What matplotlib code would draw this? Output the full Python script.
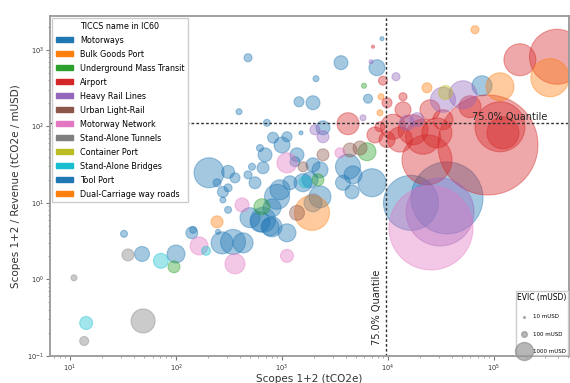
import matplotlib
matplotlib.use("Agg")
import matplotlib.pyplot as plt
from matplotlib.patches import Patch

plt.rcParams['font.family'] = ['DejaVu Sans']

categories = ["Motorways", "Bulk Goods Port", "Underground Mass Transit", "Airport",
              "Heavy Rail Lines", "Urban Light-Rail", "Motorway Network", "Stand-Alone Tunnels",
              "Container Port", "Stand-Alone Bridges", "Tool Port", "Dual-Carriage way roads"]
colors = ["#1f77b4", "#ff7f0e", "#2ca02c", "#d62728", "#9467bd", "#8c564b",
          "#e377c2", "#7f7f7f", "#bcbd22", "#17becf", "#1f77b4", "#ff7f0e"]

# Motorways
mot_x = [32.3, 47.8, 100, 141, 249, 272, 345, 429, 897, 662, 805, 1114, 205, 310, 360, 244, 277, 310,
         277, 310, 478, 556, 521, 692, 620, 823, 1000, 662, 1386, 1327, 1960, 2281, 1578, 1837, 957,
         1189, 805, 499, 620, 771, 2281, 4194, 4677, 3762, 4575, 7063, 478, 393, 721, 3603, 2094, 1446,
         1960, 7870, 8776, 6478, 16480, 36060, 2436, 77100]
mot_y = [3.94, 2.15, 2.15, 4.06, 4.18, 3.0, 3.09, 3.0, 12, 6.0, 4.86, 4.06, 24.7, 25.4, 21.2, 18.3, 13.9, 15.7,
         10.9, 8.1, 23.2, 18.3, 29.6, 42.4, 52, 71, 57, 28.7, 42.4, 34.5, 31.4, 27, 18.3, 20, 14.8,
         18.3, 8.6, 6.4, 5.65, 4.86, 12, 29.6, 23.2, 18.3, 13.9, 18.3, 785, 155, 111, 677, 418, 209,
         203, 582, 1393, 229, 10, 11.6, 95.5, 338]
mot_e = [150, 690, 1000, 440, 80, 1500, 1930, 1240, 1930, 1930, 1240, 1000, 2780, 520, 310, 200, 370, 200,
         110, 150, 200, 440, 150, 600, 150, 370, 790, 440, 600, 310, 600, 790, 1000, 790, 1240,
         600, 1000, 1240, 1240, 1000, 1490, 1930, 1000, 690, 600, 2420, 200, 110, 150, 600, 110, 310,
         600, 790, 50, 250, 9340, 16000, 600, 1240]

bulk_x = [244, 1918, 8590, 8405, 66220, 23350]
bulk_y = [5.65, 7.4, 243, 150, 1824, 318]
bulk_e = [440, 3780, 110, 110, 200, 310]

umt_x = [95.7, 647, 2187, 5938, 6339]
umt_y = [1.46, 8.9, 20, 338, 46.5]
umt_e = [440, 790, 440, 80, 1000]

air_x = [7217, 8972, 4194, 13860, 175800, 393000, 59430, 114000, 121600, 87700, 23350, 11150,
         13860, 17220, 21400, 28970, 33030, 24910, 12970, 9790, 8405, 9790, 7530]
air_y = [1094, 394, 108, 243, 739, 809, 180, 98.5, 82, 57, 36.5, 98.5,
         164, 90, 73, 82, 122, 164, 67, 67, 98.5, 203, 77]
air_e = [30, 250, 1490, 200, 3160, 9340, 1490, 7720, 3160, 30900, 7720, 1930,
         790, 2780, 3780, 2780, 1240, 1240, 1930, 790, 310, 310, 790]

hrl_x = [6916, 5808, 2436, 2047, 11890, 51000, 33030, 15100, 18790, 31000]
hrl_y = [697, 129, 73, 90, 444, 258, 222, 111, 122, 7.6]
hrl_e = [50, 110, 440, 310, 200, 2420, 1930, 690, 600, 14300]

ulr_x = [1578, 2436, 1386, 4382, 5446]
ulr_y = [29.6, 42.4, 7.4, 49, 52]
ulr_e = [310, 440, 690, 600, 600]

mwn_x = [165, 360, 1114, 420, 1114, 3524, 25470]
mwn_y = [2.74, 1.60, 2.03, 9.4, 33.3, 45, 4.71]
mwn_e = [1000, 1240, 520, 600, 1240, 310, 21800]

tun_x = [10.9, 13.6, 48.9, 35.2, 1960]
tun_y = [1.05, 0.157, 0.287, 2.09, 10]
tun_e = [110, 250, 1780, 440, 1000]

cp_x = [34500]
cp_y = [282]
cp_e = [600]

br_x = [14.2, 72, 192, 1648]
br_y = [0.27, 1.75, 2.36, 18.8]
br_e = [520, 690, 250, 440]

tp_x = [145, 1114, 1511]
tp_y = [4.44, 73, 82]
tp_e = [150, 310, 50]

dc_x = [114000, 337500]
dc_y = [328, 431]
dc_e = [2420, 4500]

series = [(mot_x, mot_y, mot_e), (bulk_x, bulk_y, bulk_e), (umt_x, umt_y, umt_e),
          (air_x, air_y, air_e), (hrl_x, hrl_y, hrl_e), (ulr_x, ulr_y, ulr_e),
          (mwn_x, mwn_y, mwn_e), (tun_x, tun_y, tun_e), (cp_x, cp_y, cp_e),
          (br_x, br_y, br_e), (tp_x, tp_y, tp_e), (dc_x, dc_y, dc_e)]

q_x = 9500
q_y = 110
size_levels = [10, 100, 1000]
k = 0.168

fig = plt.figure(figsize=(5.7, 3.83), dpi=100)
ax = fig.add_axes([50 / 570, 1 - 356 / 383, 519 / 570, 340 / 383])
ax.set_xscale('log')
ax.set_yscale('log')

for (xs, ys, es), col in zip(series, colors):
    ax.scatter(xs, ys, s=[e * k for e in es], color=col, alpha=0.4, edgecolors=col, linewidths=0.8)

ax.set_xlim(10 ** 0.811, 10 ** 5.708)
ax.set_ylim(0.1, 10 ** 3.44)

ax.axvline(q_x, color='#333333', ls=(0, (2, 1.5)), lw=1.0)
ax.axhline(q_y, color='#333333', ls=(0, (2, 1.5)), lw=1.0)
ax.text(3.2e5, q_y * 1.04, '75.0% Quantile', ha='right', va='bottom', fontsize=7, color='#222222')
ax.text(q_x * 0.93, 0.139, '75.0% Quantile', ha='right', va='bottom', rotation=90, fontsize=7, color='#222222')

ax.set_xlabel('Scopes 1+2 (tCO2e)', fontsize=7.5, color='#333333', labelpad=0)
ax.set_ylabel('Scopes 1+2 / Revenue (tCO2e / mUSD)', fontsize=7.5, color='#333333', labelpad=4)
ax.tick_params(axis='both', which='major', labelsize=4.8, length=3, color='#777777', labelcolor='#333333', pad=1.5)
ax.tick_params(axis='both', which='minor', length=1.5, color='#999999')
for sp in ax.spines.values():
    sp.set_color('#999999')
    sp.set_linewidth(1.3)

handles = [Patch(facecolor=c, edgecolor=c, label=n) for n, c in zip(categories, colors)]
leg1 = ax.legend(handles=handles, title='TICCS name in IC60', loc='upper left', fontsize=5.8,
                 title_fontsize=5.8, handlelength=2.2, handleheight=0.6, labelspacing=0.62,
                 borderaxespad=0.3, framealpha=1, edgecolor='#cccccc', fancybox=False)
ax.add_artist(leg1)

sh = [ax.scatter([], [], s=v * k, color='#888888', alpha=0.6, label=f'{v} mUSD') for v in size_levels]
ax.legend(handles=sh, title='EVIC (mUSD)', loc='lower right', fontsize=4, title_fontsize=5.5,
          labelspacing=2.2, borderaxespad=0.1, framealpha=1, edgecolor='#cccccc', fancybox=False,
          handletextpad=0.6, borderpad=0.3)

fig.savefig('out.png', dpi=100)
